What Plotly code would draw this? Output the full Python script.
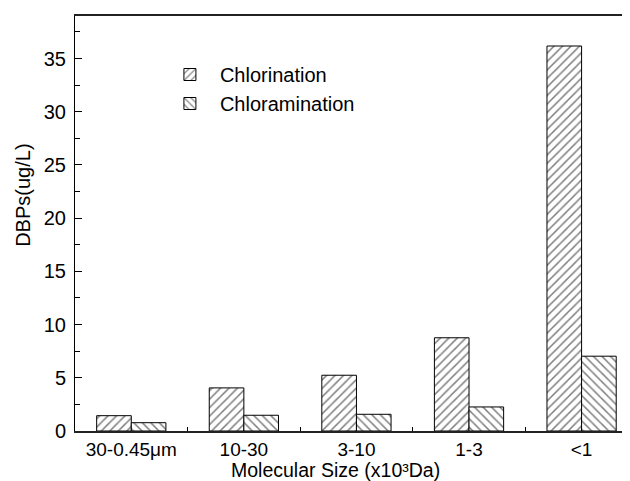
import plotly.graph_objects as go

categories = ["30-0.45μm", "10-30", "3-10", "1-3", "<1"]
chlorination = [1.44, 4.05, 5.24, 8.76, 36.18]
chloramination = [0.78, 1.48, 1.57, 2.26, 7.03]
series_names = ["Chlorination", "Chloramination"]
y_tick_values = [0, 5, 10, 15, 20, 25, 30, 35]

FONT = "Liberation Sans, Arial, sans-serif"

fig = go.Figure()
fig.add_trace(go.Bar(
    x=categories, y=chlorination, name=series_names[0],
    marker=dict(color="white", line=dict(color="black", width=1),
                pattern=dict(shape="/", fgcolor="black", bgcolor="white", size=6, solidity=0.25)),
))
fig.add_trace(go.Bar(
    x=categories, y=chloramination, name=series_names[1],
    marker=dict(color="white", line=dict(color="black", width=1),
                pattern=dict(shape="\\", fgcolor="black", bgcolor="white", size=6, solidity=0.25)),
))

# The page body has an 8px default margin, so the figure is sized to fit the window.
fig.update_layout(
    width=622, height=473,
    margin=dict(l=67, r=0, t=8, b=50, autoexpand=False),
    paper_bgcolor="white", plot_bgcolor="white",
    font=dict(family=FONT, size=20, color="black"),
    barmode="group", bargap=0.385, bargroupgap=0,
    showlegend=True,
    legend=dict(x=0.153, y=0.906, xanchor="left", yanchor="top",
                bgcolor="rgba(0,0,0,0)", itemwidth=50,
                font=dict(family=FONT, size=20, color="black"),
                tracegroupgap=0),
    xaxis=dict(
        type="category", range=[-0.5, 4.43], automargin=False,
        showline=True, linecolor="#222", linewidth=1.8, mirror=True,
        ticks="inside", ticklen=4, tickcolor="black", tickwidth=1,
        tickson="boundaries", showgrid=False, zeroline=False,
        tickfont=dict(family=FONT, size=19),
    ),
    yaxis=dict(
        range=[0, 39], tickvals=y_tick_values, automargin=False,
        showline=True, linecolor="black", linewidth=1, mirror=False,
        ticks="inside", ticklen=7, tickcolor="black", tickwidth=1,
        minor=dict(dtick=2.5, ticks="inside", ticklen=5, tickcolor="black", showgrid=False),
        showgrid=False, zeroline=False, ticklabelstandoff=4,
        tickfont=dict(family=FONT, size=20),
    ),
    annotations=[
        dict(text="DBPs(ug/L)", xref="paper", yref="paper", x=-0.094, y=0.5687,
             xanchor="center", yanchor="middle", textangle=-90, showarrow=False,
             font=dict(family=FONT, size=20)),
        dict(text="Molecular Size (x10³Da)", xref="paper", yref="paper",
             x=0.4685, y=-0.094, xanchor="center", yanchor="middle", showarrow=False,
             font=dict(family=FONT, size=19.5)),
    ],
)

fig.write_html("out.html")
